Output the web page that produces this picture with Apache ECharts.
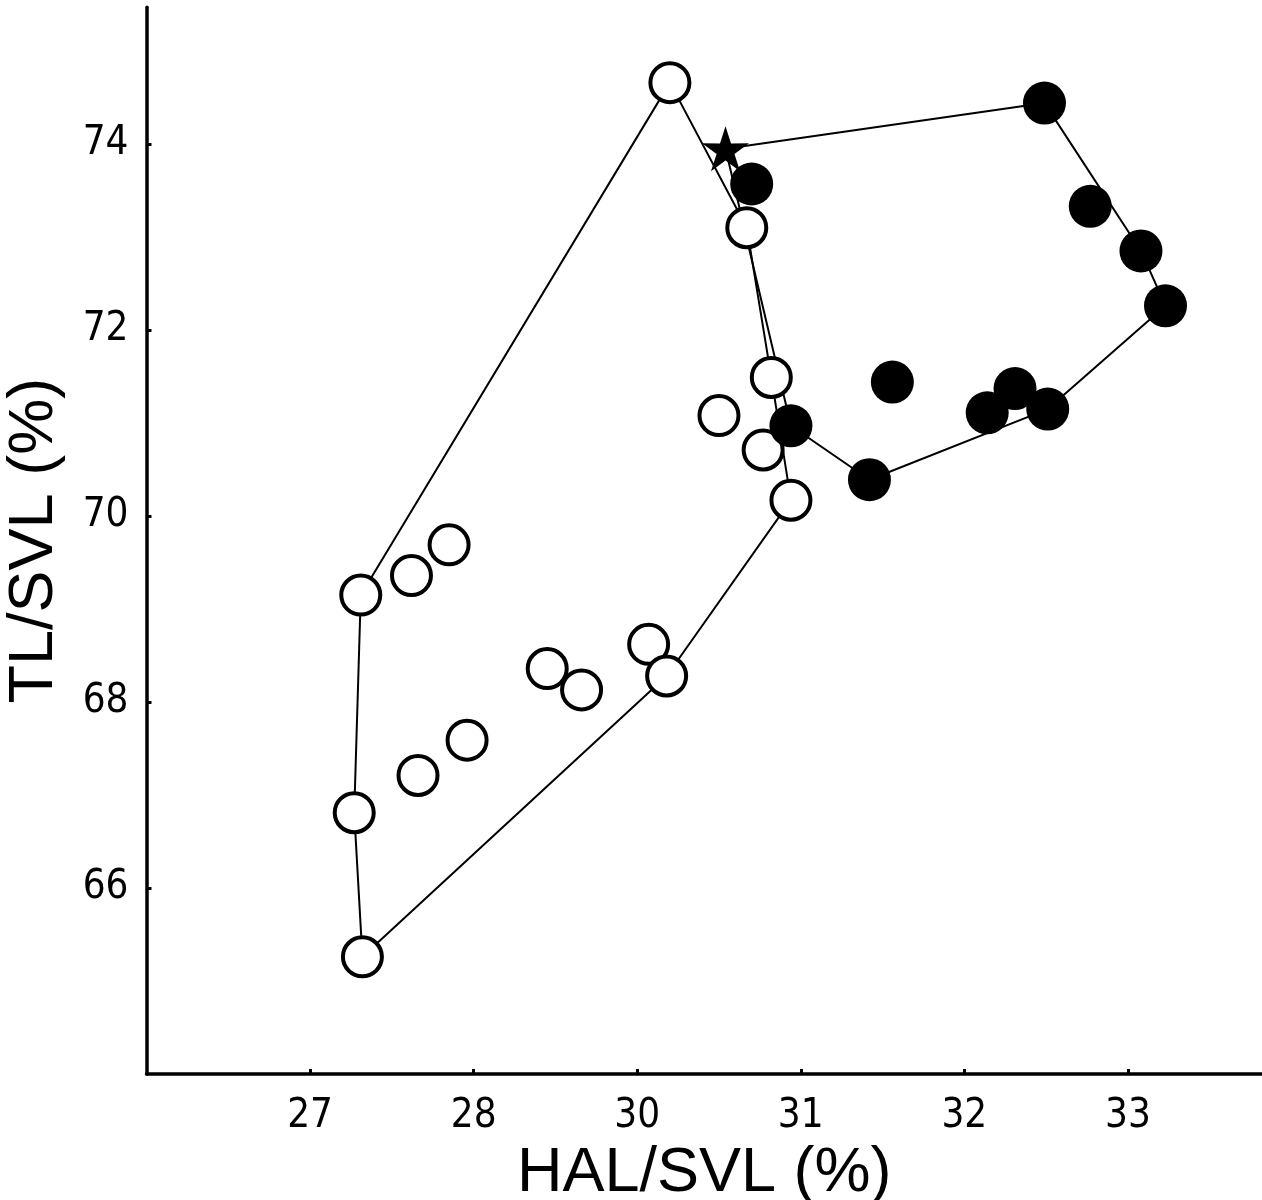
<!DOCTYPE html>
<html>
<head>
<meta charset="utf-8">
<script src="https://cdn.jsdelivr.net/npm/echarts@6/dist/echarts.min.js"></script>
<style>
  html, body { margin: 0; padding: 0; background: #fff; }
  #chart { width: 1262px; height: 1200px; }
</style>
</head>
<body>
<div id="chart"></div>
<script>
// open circles: [HAL/SVL, TL/SVL]
const openPoints = [
  [30.20, 74.66], [30.67, 73.10], [30.82, 71.49], [30.50, 71.08],
  [30.77, 70.71], [30.94, 70.17], [28.85, 69.69], [28.62, 69.36],
  [28.31, 69.15], [30.07, 68.62], [29.45, 68.36], [29.66, 68.13],
  [30.18, 68.28], [28.96, 67.59], [28.66, 67.21], [28.27, 66.81],
  [28.32, 65.26]
]
// filled circles
const filledPoints = [
  [32.49, 74.44], [30.70, 73.57], [32.77, 73.33], [33.08, 72.85],
  [33.23, 72.26], [31.56, 71.44], [32.31, 71.37], [32.14, 71.11],
  [32.51, 71.15], [30.94, 70.97], [31.42, 70.39]
]
const starPoint = [[30.54, 73.95]]

// convex hull outlines (closed)
const openHull = [
  [30.20, 74.66], [30.67, 73.10], [30.82, 71.49], [30.94, 70.17],
  [30.18, 68.28], [28.32, 65.26], [28.27, 66.81], [28.31, 69.15],
  [30.20, 74.66]
]
const filledHull = [
  [30.54, 73.95], [32.49, 74.44], [33.08, 72.85], [33.23, 72.26],
  [32.51, 71.15], [31.42, 70.39], [30.94, 70.97], [30.54, 73.95]
]

// tick positions and the labels printed under them
const xTickValues = [28, 29, 30, 31, 32, 33]
const xTickLabels = ['27', '28', '30', '31', '32', '33']
const yTickValues = [66, 68, 70, 72, 74]
const yTickLabels = ['66', '68', '70', '72', '74']

const tickFont = "'Liberation Sans Narrow', 'Arial Narrow', 'DejaVu Sans Condensed', sans-serif"
const titleFont = "'Liberation Sans', Arial, sans-serif"
const starPath = 'path://M50 0 L61.17 34.63 L97.55 34.55 L68.07 55.87 L79.39 90.45 L50 69 L20.61 90.45 L31.93 55.87 L2.45 34.55 L38.83 34.63 Z'

const chart = echarts.init(document.getElementById('chart'))

const option = {
  animation: false,
  backgroundColor: '#fff',
  grid: {
    left: 146.5,
    right: 0,
    top: 7.3,
    bottom: 126,
    containLabel: false,
    outerBoundsMode: 'none',
  },
  xAxis: {
    type: 'value',
    min: 27,
    max: 33.82,
    name: 'HAL/SVL (%)',
    nameLocation: 'middle',
    nameGap: 50,
    nameTextStyle: {
      fontFamily: titleFont,
      fontSize: 63,
      color: '#000',
    },
    axisLine: {
      show: true,
      lineStyle: { color: '#000', width: 3.5 },
    },
    axisTick: {
      show: true,
      inside: true,
      length: 5,
      customValues: xTickValues,
      lineStyle: { color: '#000', width: 3 },
    },
    axisLabel: {
      customValues: xTickValues,
      margin: 23,
      fontFamily: tickFont,
      fontSize: 40,
      color: '#000',
      formatter: (v) => {
        const i = xTickValues.indexOf(v)
        return i >= 0 ? xTickLabels[i] : ''
      },
    },
    splitLine: { show: false },
  },
  yAxis: {
    type: 'value',
    min: 64,
    max: 75.47,
    name: 'TL/SVL (%)',
    nameLocation: 'middle',
    nameGap: 80,
    nameTextStyle: {
      fontFamily: titleFont,
      fontSize: 63,
      color: '#000',
    },
    axisLine: {
      show: true,
      lineStyle: { color: '#000', width: 3.5 },
    },
    axisTick: {
      show: true,
      inside: true,
      length: 5,
      customValues: yTickValues,
      lineStyle: { color: '#000', width: 3 },
    },
    axisLabel: {
      customValues: yTickValues,
      margin: 18,
      fontFamily: tickFont,
      fontSize: 40,
      color: '#000',
      formatter: (v) => {
        const i = yTickValues.indexOf(v)
        return i >= 0 ? yTickLabels[i] : ''
      },
    },
    splitLine: { show: false },
  },
  series: [
    {
      name: 'open hull',
      type: 'line',
      data: openHull,
      symbol: 'none',
      z: 1,
      lineStyle: { color: '#000', width: 2 },
    },
    {
      name: 'filled hull',
      type: 'line',
      data: filledHull,
      symbol: 'none',
      z: 1,
      lineStyle: { color: '#000', width: 2 },
    },
    {
      name: 'open',
      type: 'scatter',
      data: openPoints,
      symbol: 'circle',
      symbolSize: 39,
      z: 2,
      itemStyle: { color: '#fff', borderColor: '#000', borderWidth: 4, opacity: 1 },
    },
    {
      name: 'filled',
      type: 'scatter',
      data: filledPoints,
      symbol: 'circle',
      symbolSize: 43,
      z: 3,
      itemStyle: { color: '#000', opacity: 1 },
    },
    {
      name: 'star',
      type: 'scatter',
      data: starPoint,
      symbol: starPath,
      symbolSize: [47, 45],
      z: 4,
      itemStyle: { color: '#000', opacity: 1 },
    },
  ],
}

chart.setOption(option)
</script>
</body>
</html>
